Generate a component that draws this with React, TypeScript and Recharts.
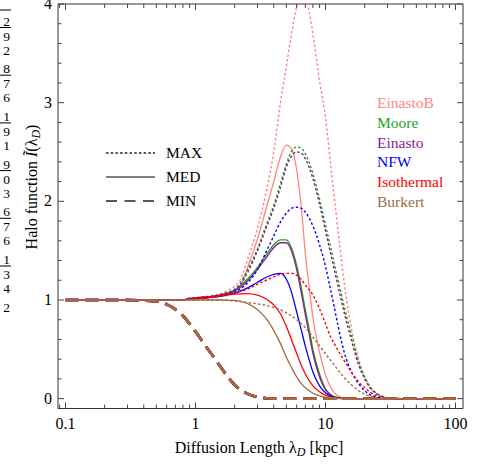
import React from 'react';
import { LineChart, Line, XAxis, YAxis, ReferenceLine } from 'recharts';

const FONT = "'Liberation Serif'";
const TXT: React.CSSProperties = { fontFamily: FONT };

// ---- axes ----
const X_DOMAIN: [number, number] = [0.08755, 114.2];
const Y_DOMAIN: [number, number] = [-0.1, 4];
const xMajor = [0.1, 1, 10, 100];
const xMajorLabels = ['0.1', '1', '10', '100'];
const xTicks = [0.09, 0.1, 0.2, 0.3, 0.4, 0.5, 0.6, 0.7, 0.8, 0.9, 1, 2, 3, 4, 5, 6, 7, 8, 9, 10, 20, 30, 40, 50, 60, 70, 80, 90, 100];
const yMajor = [0, 1, 2, 3, 4];
const yMajorLabels = ['0', '1', '2', '3', '4'];
const yTicks = [0, 0.2, 0.4, 0.6, 0.8, 1, 1.2, 1.4, 1.6, 1.8, 2, 2.2, 2.4, 2.6, 2.8, 3, 3.2, 3.4, 3.6, 3.8, 4];

// ---- series: [lambda_D (kpc), halo function] ----
const einastoBMax = [[0.1, 1], [0.5, 1], [0.8, 1], [0.9, 1.02], [1, 1.025], [1.2, 1.035], [1.4, 1.05], [1.6, 1.07], [1.8, 1.1], [2, 1.14], [2.2, 1.2], [2.5, 1.4], [3, 1.73], [3.5, 2.1], [4, 2.5], [4.5, 3.0], [5, 3.37], [5.5, 3.71], [6, 3.98], [6.5, 4.15], [7, 4.08], [7.5, 3.92], [8, 3.7], [9, 3.22], [10, 2.85], [11, 2.35], [12, 1.9], [13, 1.5], [14, 1.15], [16, 0.68], [18, 0.4], [20, 0.22], [22, 0.12], [25, 0.045], [28, 0.015], [32, 0.004], [40, 0], [100, 0]];
const einastoBMed = [[0.1, 1], [0.5, 1], [0.8, 1], [0.9, 1.015], [1, 1.02], [1.2, 1.03], [1.4, 1.04], [1.6, 1.06], [1.8, 1.08], [2, 1.1], [2.2, 1.14], [2.5, 1.32], [3, 1.62], [3.5, 1.93], [4, 2.2], [4.5, 2.45], [5, 2.57], [5.5, 2.53], [6, 2.32], [6.5, 1.95], [7, 1.47], [7.5, 1.12], [8, 0.82], [8.5, 0.62], [9, 0.47], [10, 0.24], [11, 0.11], [12, 0.045], [13, 0.015], [14, 0.004], [16, 0], [100, 0]];
const mooreMax = [[0.1, 1], [0.5, 1], [0.8, 1], [0.9, 1.015], [1, 1.02], [1.2, 1.03], [1.4, 1.04], [1.6, 1.06], [1.8, 1.08], [2, 1.11], [2.2, 1.17], [2.5, 1.3], [3, 1.52], [3.5, 1.76], [4, 1.96], [4.5, 2.18], [5, 2.38], [5.5, 2.51], [6, 2.55], [6.5, 2.54], [7, 2.48], [8, 2.28], [9, 2.02], [10, 1.76], [11, 1.52], [12, 1.3], [13, 1.1], [14, 0.92], [16, 0.62], [18, 0.37], [20, 0.22], [22, 0.12], [25, 0.05], [28, 0.02], [32, 0.005], [40, 0], [100, 0]];
const mooreMed = [[0.1, 1], [0.5, 1], [0.8, 1], [0.9, 1.015], [1, 1.02], [1.2, 1.03], [1.4, 1.04], [1.6, 1.055], [1.8, 1.07], [2, 1.1], [2.5, 1.21], [3, 1.33], [3.5, 1.46], [4, 1.56], [4.5, 1.61], [5, 1.61], [5.5, 1.52], [6, 1.35], [6.5, 1.13], [7, 0.9], [7.5, 0.7], [8, 0.5], [9, 0.25], [10, 0.1], [11, 0.04], [12, 0.015], [14, 0], [100, 0]];
const einastoMax = [[0.1, 1], [0.5, 1], [0.8, 1], [0.9, 1.015], [1, 1.02], [1.2, 1.03], [1.4, 1.04], [1.6, 1.055], [1.8, 1.075], [2, 1.1], [2.2, 1.15], [2.5, 1.27], [3, 1.5], [3.5, 1.73], [4, 1.93], [4.5, 2.14], [5, 2.35], [5.5, 2.46], [6, 2.5], [6.5, 2.49], [7, 2.43], [8, 2.23], [9, 1.97], [10, 1.7], [11, 1.46], [12, 1.24], [13, 1.04], [14, 0.86], [16, 0.57], [18, 0.34], [20, 0.2], [22, 0.11], [25, 0.045], [28, 0.016], [32, 0.004], [40, 0], [100, 0]];
const einastoMed = [[0.1, 1], [0.5, 1], [0.8, 1], [0.9, 1.015], [1, 1.02], [1.2, 1.03], [1.4, 1.04], [1.6, 1.05], [1.8, 1.065], [2, 1.09], [2.5, 1.19], [3, 1.31], [3.5, 1.43], [4, 1.53], [4.5, 1.58], [5, 1.58], [5.5, 1.49], [6, 1.31], [6.5, 1.08], [7, 0.85], [7.5, 0.65], [8, 0.46], [9, 0.22], [10, 0.09], [11, 0.035], [12, 0.012], [14, 0], [100, 0]];
const nfwMax = [[0.1, 1], [0.5, 1], [0.8, 1], [0.9, 1.01], [1, 1.015], [1.2, 1.025], [1.4, 1.035], [1.6, 1.045], [1.8, 1.06], [2, 1.08], [2.5, 1.17], [3, 1.31], [3.5, 1.49], [4, 1.65], [4.5, 1.79], [5, 1.88], [5.5, 1.93], [6, 1.94], [6.5, 1.93], [7, 1.89], [8, 1.75], [9, 1.56], [10, 1.34], [11, 1.09], [12, 0.85], [13, 0.63], [14, 0.46], [16, 0.26], [18, 0.15], [20, 0.08], [22, 0.04], [25, 0.015], [28, 0.005], [32, 0], [100, 0]];
const nfwMed = [[0.1, 1], [0.5, 1], [0.8, 1], [0.9, 1.01], [1, 1.015], [1.2, 1.02], [1.4, 1.03], [1.6, 1.04], [1.8, 1.055], [2, 1.07], [2.5, 1.12], [3, 1.18], [3.5, 1.23], [4, 1.26], [4.5, 1.27], [5, 1.21], [5.5, 1.07], [6, 0.88], [6.5, 0.7], [7, 0.53], [7.5, 0.39], [8, 0.27], [9, 0.13], [10, 0.06], [11, 0.025], [12, 0.01], [14, 0], [100, 0]];
const isothermalMax = [[0.1, 1], [0.5, 1], [0.8, 1], [0.9, 1.01], [1, 1.015], [1.2, 1.02], [1.4, 1.03], [1.6, 1.04], [1.8, 1.05], [2, 1.07], [2.5, 1.11], [3, 1.16], [3.5, 1.2], [4, 1.235], [4.5, 1.26], [5, 1.27], [5.5, 1.27], [6, 1.25], [6.5, 1.21], [7, 1.15], [8, 1.05], [9, 0.91], [10, 0.76], [11, 0.62], [12, 0.53], [13, 0.45], [14, 0.38], [16, 0.26], [18, 0.17], [20, 0.11], [22, 0.065], [25, 0.028], [28, 0.01], [32, 0.003], [40, 0], [100, 0]];
const isothermalMed = [[0.1, 1], [0.5, 1], [0.8, 1], [0.9, 1.01], [1, 1.015], [1.2, 1.025], [1.4, 1.035], [1.6, 1.045], [1.8, 1.055], [2, 1.06], [2.5, 1.065], [3, 1.05], [3.5, 1.01], [4, 0.95], [4.5, 0.86], [5, 0.73], [5.5, 0.59], [6, 0.46], [6.5, 0.34], [7, 0.25], [8, 0.13], [9, 0.07], [10, 0.035], [11, 0.016], [12, 0.007], [14, 0], [100, 0]];
const burkertMax = [[0.1, 1], [1, 1], [1.5, 1], [2, 0.99], [2.5, 0.975], [3, 0.96], [3.5, 0.945], [4, 0.925], [4.5, 0.9], [5, 0.87], [6, 0.8], [7, 0.72], [8, 0.625], [9, 0.535], [10, 0.455], [11, 0.385], [12, 0.32], [13, 0.26], [14, 0.21], [16, 0.135], [18, 0.08], [20, 0.045], [22, 0.025], [25, 0.01], [28, 0.004], [32, 0], [100, 0]];
const burkertMed = [[0.1, 1], [1, 1], [1.5, 1], [2, 0.995], [2.5, 0.965], [3, 0.9], [3.5, 0.81], [4, 0.69], [4.5, 0.56], [5, 0.42], [5.5, 0.31], [6, 0.22], [6.5, 0.155], [7, 0.11], [8, 0.055], [9, 0.028], [10, 0.014], [12, 0.004], [14, 0], [100, 0]];
const minAll = [[0.1, 1], [0.3, 1], [0.4, 0.995], [0.5, 0.985], [0.6, 0.955], [0.7, 0.905], [0.8, 0.84], [0.9, 0.76], [1, 0.68], [1.2, 0.53], [1.4, 0.41], [1.6, 0.3], [1.8, 0.21], [2, 0.14], [2.5, 0.05], [3, 0.015], [3.5, 0.004], [4, 0], [100, 0]];

const modelNames = ['EinastoB', 'Moore', 'Einasto', 'NFW', 'Isothermal', 'Burkert'];
const modelColors = ['#FF8585', '#1AA31A', '#8A1C8E', '#0000FF', '#FF0000', '#A06C40'];
const modelMax = [einastoBMax, mooreMax, einastoMax, nfwMax, isothermalMax, burkertMax];
const modelMed = [einastoBMed, mooreMed, einastoMed, nfwMed, isothermalMed, burkertMed];
const styleNames = ['MAX', 'MED', 'MIN'];

// cropped fragments from a neighbouring panel at the left edge
const fragDigits = ['2', '9', '2', '8', '7', '6', '1', '9', '1', '9', '0', '3', '6', '7', '6', '1', '3', '4', '2'];

// ---- layout ----
const W = 490;
const H = 468;
const M_TOP = 4;
const M_RIGHT = 27;
const Y_AXIS_W = 58;
const X_AXIS_H = 59.5;
const PLOT_TOP = M_TOP;
const PLOT_RIGHT = W - M_RIGHT;

const toPts = (arr: number[][]) => arr.map(([x, y]) => ({ x, y }));
const isIn = (list: number[], v: number) => list.findIndex((m) => Math.abs(m - v) < 1e-9);

const XTick = (props: any) => {
  const { x, y, payload } = props;
  const idx = isIn(xMajor, payload.value);
  const len = idx >= 0 ? 6 : 4;
  return (
    <g>
      <line x1={x} y1={y} x2={x} y2={y - len} stroke="#444" strokeWidth={1} />
      <line x1={x} y1={PLOT_TOP} x2={x} y2={PLOT_TOP + len} stroke="#444" strokeWidth={1} />
      {idx >= 0 && (
        <text x={x} y={y + 20} textAnchor="middle" style={TXT} fontSize={16} fill="#000">
          {xMajorLabels[idx]}
        </text>
      )}
    </g>
  );
};

const YTick = (props: any) => {
  const { x, y, payload } = props;
  const idx = isIn(yMajor, payload.value);
  const len = idx >= 0 ? 6 : 3.5;
  return (
    <g>
      <line x1={x} y1={y} x2={x + len} y2={y} stroke="#444" strokeWidth={1} />
      <line x1={PLOT_RIGHT - len} y1={y} x2={PLOT_RIGHT} y2={y} stroke="#444" strokeWidth={1} />
      {idx >= 0 && (
        <text x={x - 6} y={y + 5} textAnchor="end" style={TXT} fontSize={16} fill="#000">
          {yMajorLabels[idx]}
        </text>
      )}
    </g>
  );
};

const dashFor = ['2.5 2.2', undefined, '13 7'];
const widthFor = [1.4, 1.3, 2.6];

export default function App() {
  const lines: React.ReactNode[] = [];
  modelNames.forEach((name, i) => {
    const sets = [modelMax[i], modelMed[i], minAll];
    sets.forEach((set, k) => {
      lines.push(
        <Line
          key={`${name}-${styleNames[k]}`}
          data={toPts(set)}
          dataKey="y"
          type="monotone"
          stroke={modelColors[i]}
          strokeWidth={widthFor[k]}
          strokeDasharray={dashFor[k]}
          dot={false}
          activeDot={false}
          isAnimationActive={false}
        />
      );
    });
  });

  return (
    <div style={{ position: 'absolute', left: 0, top: 0, width: W, height: H, background: '#fff' }}>
      <LineChart width={W} height={H} margin={{ top: M_TOP, right: M_RIGHT, bottom: 0, left: 0 }}>
        <XAxis
          dataKey="x"
          type="number"
          scale="log"
          domain={X_DOMAIN}
          allowDataOverflow
          ticks={xTicks}
          interval={0}
          tickSize={0}
          tickMargin={0}
          tickLine={false}
          tick={<XTick />}
          height={X_AXIS_H}
          stroke="#333"
        />
        <YAxis
          type="number"
          domain={Y_DOMAIN}
          allowDataOverflow
          ticks={yTicks}
          interval={0}
          tickSize={0}
          tickMargin={0}
          tickLine={false}
          tick={<YTick />}
          width={Y_AXIS_W}
          stroke="#333"
        />
        <ReferenceLine y={Y_DOMAIN[1]} stroke="#333" strokeWidth={1} />
        <ReferenceLine x={X_DOMAIN[1]} stroke="#333" strokeWidth={1} />
        {lines}
      </LineChart>
      <svg width={W} height={H} style={{ position: 'absolute', left: 0, top: 0, pointerEvents: 'none' }}>
        <g fill="#000">
          {/* left edge fragments */}
          {fragDigits.map((d, i) => {
            const group = Math.floor(i / 3);
            const pos = i % 3;
            const y0 = 21 + group * 47.7 + (pos === 0 ? 0 : pos === 1 ? 15 : 29);
            return (
              <text key={`fd${i}`} x={10} y={y0 + 4.5} textAnchor="end" fontSize={13.5} style={TXT}>
                {d}
              </text>
            );
          })}
          {[0, 1, 2, 3, 4, 5, 6].map((g) => {
            const yb = g === 0 ? 10 : 27.5 + (g - 1) * 47.7;
            return <line key={`fb${g}`} x1={0} x2={11} y1={yb} y2={yb} stroke="#000" strokeWidth={1} />;
          })}

          {/* axis labels */}
          <text x={259} y={453} textAnchor="middle" fontSize={16} style={TXT}>
            Diffusion Length λ<tspan fontStyle="italic" fontSize={12} dy={3}>D</tspan>
            <tspan dy={-3}> [kpc]</tspan>
          </text>
          <text transform="translate(37, 187) rotate(-90)" textAnchor="middle" fontSize={16} style={TXT}>
            Halo function <tspan fontStyle="italic">Ĩ</tspan>(λ<tspan fontStyle="italic" fontSize={12} dy={3}>D</tspan>
            <tspan dy={-3}>)</tspan>
          </text>

          {/* line-style legend */}
          {styleNames.map((s, k) => {
            const y = 153 + k * 24;
            return (
              <g key={s}>
                <line x1={106} x2={155} y1={y} y2={y} stroke={k === 1 ? '#555' : '#222'} strokeWidth={1.3} strokeDasharray={k === 0 ? '2.5 2.2' : k === 2 ? '11 7.5' : undefined} />
                <text x={166} y={y + 5} fontSize={15.5} style={TXT}>{s}</text>
              </g>
            );
          })}

          {/* model legend */}
          {modelNames.map((n, i) => (
            <text key={n} x={377} y={108 + i * 19.8} fontSize={15.5} fill={modelColors[i]} style={TXT}>
              {n}
            </text>
          ))}
        </g>
      </svg>
    </div>
  );
}
